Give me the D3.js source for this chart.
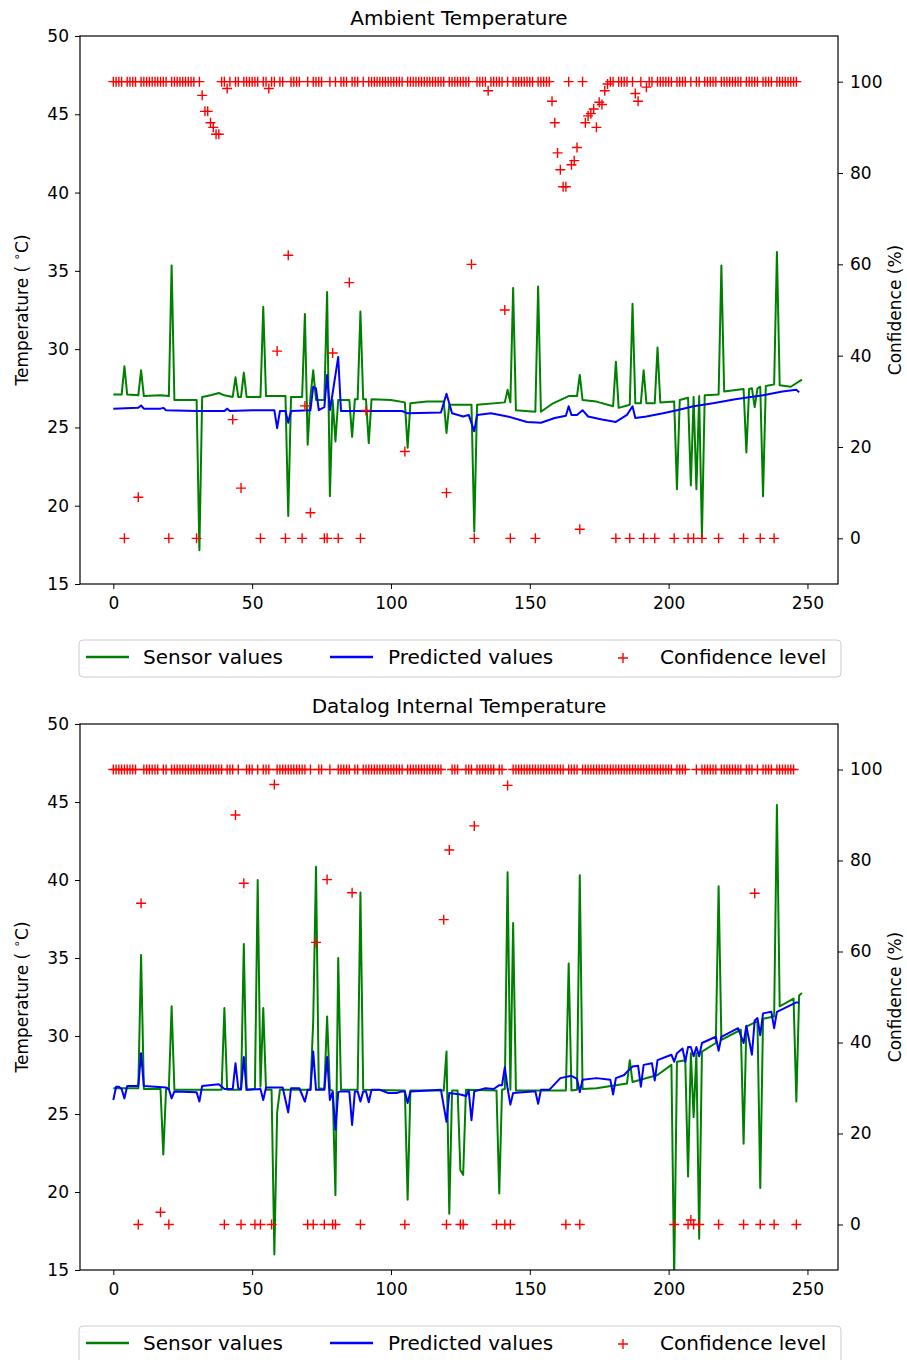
<!DOCTYPE html>
<html>
<head>
<meta charset="utf-8">
<script src="https://cdn.jsdelivr.net/npm/d3@7"></script>
<style>
	body { margin: 0; background: #fff; }
	svg text { font-family: "DejaVu Sans", sans-serif; fill: #000; }
</style>
</head>
<body>
<div id="chart"></div>
<script>
	// line vertices as [index, value]
	var ambientSensor = [[0,27.1],[3,27.1],[4,28.9],[5,27.1],[9,27.05],[10,28.65],[11,27.0],[17,27.05],[20,27.0],[21,35.35],[22,26.75],[30,26.75],[31,17.15],[32,26.95],[35,27.05],[38,27.2],[40,27.05],[43,26.95],[44,28.2],[45,26.95],[46,26.95],[47,28.5],[48,26.95],[53,26.95],[54,32.7],[55,27.0],[62,27.0],[63,19.35],[64,26.95],[68,26.95],[69,32.25],[70,23.9],[71,27.0],[72,28.65],[73,26.75],[76,26.75],[77,33.65],[78,20.6],[79,26.75],[80,24.1],[81,26.75],[85,26.75],[86,24.4],[87,26.8],[88,26.8],[89,32.4],[90,26.8],[91,26.8],[92,24.0],[93,26.8],[100,26.75],[105,26.6],[106,23.7],[107,26.55],[113,26.65],[119,26.65],[120,24.65],[121,26.45],[129,26.45],[130,18.35],[131,26.45],[141,26.6],[142,27.4],[143,26.6],[144,33.9],[145,26.1],[152,26.0],[153,34.0],[154,26.0],[158,26.5],[164,27.0],[167,27.0],[168,28.35],[169,26.75],[174,26.65],[180,26.35],[181,29.2],[182,26.25],[186,26.45],[187,32.9],[188,26.55],[190,26.55],[191,28.65],[192,26.55],[195,26.55],[196,30.1],[197,26.6],[202,26.65],[203,21.05],[204,26.75],[207,26.9],[208,21.3],[209,26.95],[210,21.05],[211,27.0],[212,18.0],[213,27.05],[218,27.1],[219,35.35],[220,27.3],[227,27.45],[228,23.4],[229,27.45],[230,27.5],[231,26.3],[232,27.5],[233,27.6],[234,20.6],[235,27.65],[238,27.75],[239,36.2],[240,27.7],[244,27.6],[248,28.05]];
	var ambientPredicted = [[0,26.2],[9,26.25],[10,26.4],[11,26.2],[17,26.2],[18,26.25],[19,26.1],[30,26.05],[40,26.05],[41,26.2],[42,26.05],[50,26.1],[58,26.1],[59,24.95],[60,26.05],[62,26.05],[63,25.3],[64,26.05],[71,26.1],[72,27.6],[73,27.5],[74,26.1],[76,26.3],[77,28.35],[78,26.1],[79,27.2],[81,29.5],[82,26.05],[104,26.05],[106,25.9],[118,25.95],[120,27.15],[122,25.9],[126,25.7],[128,25.8],[130,24.75],[131,25.8],[136,25.9],[142,25.7],[149,25.35],[154,25.3],[159,25.6],[163,25.75],[164,26.35],[165,25.8],[167,25.8],[169,26.1],[171,25.7],[176,25.5],[181,25.35],[185,25.8],[187,26.35],[188,25.6],[192,25.7],[198,25.9],[203,26.1],[209,26.35],[216,26.55],[224,26.8],[234,27.05],[241,27.3],[246,27.4],[247,27.25]];
	// confidence (%) for each index 0..246
	var ambientConfidence = [
		100,100,100,100,0,100,100,100,100,9,
		100,100,100,100,100,100,100,100,100,100,
		0,100,100,100,100,100,100,100,100,100,
		0,100,97,93.5,93.5,91,90,88.5,88.5,100,
		100,98.5,100,26,100,100,11,100,100,100,
		100,100,100,0,100,100,98.5,100,100,41,
		100,100,0,62,100,100,100,100,0,29,
		100,5.6,100,100,100,100,0,0,100,40.6,
		100,0,100,100,100,56,100,100,100,0,
		100,28,100,100,100,100,100,100,100,100,
		100,100,100,100,100,19,100,100,100,100,
		100,100,100,100,100,100,100,100,100,100,
		10,100,100,100,100,100,100,100,100,60,
		0,100,100,100,100,98,100,100,100,100,
		100,50,100,0,100,100,100,100,100,100,
		100,100,0,100,100,100,100,100,95.7,91,
		84.4,80.7,77,77,100,81.8,82.7,85.6,2,100,
		91,92.5,93,94,90,95.5,95,98,99.5,100,
		100,0,100,100,100,100,0,100,97.4,95.7,
		100,0,98.8,100,100,0,100,100,100,100,
		100,100,0,100,100,100,100,0,100,0,
		100,100,0,100,100,100,100,100,0,100,
		100,100,100,100,100,100,100,0,100,100,
		100,100,100,0,100,100,100,100,0,100,
		100,100,100,100,100,100,100];

	var internalSensor = [[0,26.65],[9,26.65],[10,35.2],[11,26.6],[17,26.6],[18,22.4],[19,26.6],[20,26.6],[21,31.9],[22,26.55],[39,26.55],[40,31.8],[41,26.55],[46,26.55],[47,35.9],[48,26.55],[51,26.6],[52,40.0],[53,26.75],[54,31.8],[55,26.55],[57,26.55],[58,16.0],[59,25.1],[60,26.55],[71,26.55],[72,31.0],[73,40.85],[74,26.65],[76,26.6],[77,31.25],[78,26.55],[79,26.5],[80,19.8],[81,35.0],[82,26.55],[88,26.55],[89,39.2],[90,26.55],[105,26.5],[106,19.5],[107,26.5],[119,26.5],[120,29.0],[121,18.6],[122,26.5],[124,26.5],[125,21.4],[126,21.1],[127,26.55],[138,26.5],[139,19.9],[140,26.55],[141,26.6],[142,40.5],[143,26.55],[144,37.25],[145,26.5],[163,26.5],[164,34.65],[165,26.5],[167,26.55],[168,40.3],[169,26.6],[174,26.65],[185,26.95],[186,28.45],[187,27.05],[196,27.5],[201,28.15],[202,14.5],[203,28.35],[206,28.45],[207,21.0],[208,28.9],[209,24.8],[210,28.9],[211,17.0],[212,29.0],[217,29.55],[218,39.6],[219,29.75],[226,30.4],[227,23.1],[228,30.6],[232,30.95],[233,20.25],[234,31.1],[238,31.25],[239,44.8],[240,31.9],[245,32.4],[246,25.8],[247,32.6],[248,32.75]];
	var internalPredicted = [[0,25.9],[1,26.75],[2,26.75],[3,26.6],[4,26.0],[5,26.8],[9,26.8],[10,28.9],[11,26.8],[19,26.7],[20,26.6],[21,26.0],[22,26.45],[30,26.4],[31,25.8],[32,26.8],[38,26.9],[40,26.6],[43,26.6],[44,28.25],[45,26.65],[46,26.6],[47,28.65],[48,26.55],[53,26.6],[54,25.9],[55,26.7],[61,26.7],[63,25.1],[64,26.65],[67,26.65],[69,25.8],[70,26.55],[71,26.55],[72,29.0],[73,26.55],[76,26.55],[77,28.65],[78,25.9],[79,26.4],[80,24.0],[81,26.4],[82,26.45],[85,26.45],[86,24.3],[87,26.45],[88,26.45],[89,25.8],[90,26.45],[91,26.45],[92,25.75],[93,26.55],[96,26.55],[99,26.35],[102,26.35],[104,26.45],[105,26.45],[106,25.7],[107,26.45],[118,26.55],[120,24.5],[121,26.35],[125,26.25],[127,26.15],[128,26.5],[129,24.6],[130,26.45],[134,26.65],[137,26.6],[139,26.85],[140,26.85],[141,28.0],[142,26.65],[143,25.6],[144,26.35],[151,26.45],[152,26.45],[153,25.65],[154,26.55],[157,26.55],[161,27.3],[165,27.45],[167,27.25],[168,26.4],[169,27.2],[174,27.3],[179,27.2],[180,26.25],[181,27.3],[184,27.5],[185,27.7],[187,28.05],[189,28.1],[190,26.75],[191,28.15],[194,28.25],[195,27.15],[196,28.45],[201,28.8],[202,28.35],[203,28.9],[205,29.2],[206,28.35],[207,29.3],[208,29.3],[209,28.7],[210,29.3],[211,28.7],[212,29.55],[217,29.95],[218,29.05],[219,29.95],[225,30.5],[227,29.55],[228,30.65],[230,28.8],[231,31.0],[232,31.15],[233,30.05],[234,31.45],[237,31.55],[238,30.5],[239,31.55],[246,32.15],[247,32.15]];
	var internalConfidence = [
		100,100,100,100,100,100,100,100,100,0,
		70.6,100,100,100,100,100,100,2.7,100,100,
		0,100,100,100,100,100,100,100,100,100,
		100,100,100,100,100,100,100,100,100,100,
		0,100,100,100,90,100,0,75,100,100,
		100,0,100,0,100,100,100,0,96.7,100,
		100,100,100,100,100,100,100,100,100,100,
		0,100,0,62,100,100,0,75.8,100,0,
		0,100,100,100,100,100,72.9,100,100,0,
		100,100,100,100,100,100,100,100,100,100,
		100,100,100,100,100,0,100,100,100,100,
		100,100,100,100,100,100,100,100,100,67,
		0,82.3,100,100,100,0,0,100,100,100,
		87.6,100,100,100,100,100,100,100,0,100,
		100,0,96.5,0,100,100,100,100,100,100,
		100,100,100,100,100,100,100,100,100,100,
		100,100,100,0,100,100,100,100,0,100,
		100,100,100,100,100,100,100,100,100,100,
		100,100,100,100,100,100,100,100,100,100,
		100,100,100,100,100,100,100,100,100,100,
		100,100,0,100,100,100,100,0,1,0,
		100,0,100,100,100,100,100,100,0,100,
		100,100,100,100,100,100,100,0,100,100,
		100,72.8,100,0,100,100,100,100,0,100,
		100,100,100,100,100,100,0];

	var xTicks = [0, 50, 100, 150, 200, 250];
	var tempTicks = [15, 20, 25, 30, 35, 40, 45, 50];
	var confTicks = [0, 20, 40, 60, 80, 100];
	var legendLabels = ["Sensor values", "Predicted values", "Confidence level"];

	var w = 907, h = 1360;
	var svg = d3.select("#chart").append("svg")
		.attr("width", w)
		.attr("height", h);

	var crossPath = "M-5,0H5M0,-5V5";

	function drawPanel(title, sensor, predicted, confidence, top, bottom, id) {
		var left = 80, right = 838;
		var x = d3.scaleLinear().domain([-12, 261]).range([left, right]);
		var y = d3.scaleLinear().domain([15, 50]).range([bottom, top]);
		var yc = d3.scaleLinear().domain([-10, 110]).range([bottom, top]);
		var g = svg.append("g");

		g.append("clipPath").attr("id", "clip" + id)
			.append("rect")
			.attr("x", left).attr("y", top)
			.attr("width", right - left).attr("height", bottom - top);

		var line = d3.line()
			.x(function(d) { return x(d[0]); })
			.y(function(d) { return y(d[1]); });

		g.append("path")
			.datum(sensor)
			.attr("d", line)
			.attr("clip-path", "url(#clip" + id + ")")
			.attr("fill", "none")
			.attr("stroke", "#008000")
			.attr("stroke-width", 2)
			.attr("stroke-linejoin", "round");

		g.append("path")
			.datum(predicted)
			.attr("d", line)
			.attr("clip-path", "url(#clip" + id + ")")
			.attr("fill", "none")
			.attr("stroke", "#0000ff")
			.attr("stroke-width", 2)
			.attr("stroke-linejoin", "round");

		g.append("g")
			.selectAll("path")
			.data(confidence)
			.enter()
			.append("path")
			.attr("d", crossPath)
			.attr("transform", function(d, i) { return "translate(" + x(i) + "," + yc(d) + ")"; })
			.attr("stroke", "#ff0000")
			.attr("stroke-width", 1.4)
			.attr("fill", "none");

		// axes
		var ax = g.append("g")
			.attr("transform", "translate(0," + bottom + ")")
			.call(d3.axisBottom(x).tickValues(xTicks).tickSize(5).tickPadding(8));
		var ayl = g.append("g")
			.attr("transform", "translate(" + left + ",0)")
			.call(d3.axisLeft(y).tickValues(tempTicks).tickSize(5).tickPadding(6));
		var ayr = g.append("g")
			.attr("transform", "translate(" + right + ",0)")
			.call(d3.axisRight(yc).tickValues(confTicks).tickSize(5).tickPadding(7));
		[ax, ayl, ayr].forEach(function(a) {
			a.select(".domain").remove();
			a.selectAll("line").attr("stroke", "#000").attr("stroke-width", 1);
			a.selectAll("text").attr("font-size", 17).attr("font-family", "DejaVu Sans");
		});

		g.append("rect")
			.attr("x", left).attr("y", top)
			.attr("width", right - left).attr("height", bottom - top)
			.attr("fill", "none")
			.attr("stroke", "#000")
			.attr("stroke-width", 1.2);

		g.append("text")
			.attr("x", (left + right) / 2)
			.attr("y", top - 11)
			.attr("text-anchor", "middle")
			.attr("font-size", 20)
			.text(title);

		var mid = (top + bottom) / 2;
		var lab = g.append("text")
			.attr("transform", "translate(28," + mid + ") rotate(-90)")
			.attr("text-anchor", "middle")
			.attr("font-size", 17);
		lab.append("tspan").text("Temperature ( ");
		lab.append("tspan").attr("font-size", 12).attr("dy", -7).text("∘");
		lab.append("tspan").attr("dy", 7).text("C)");

		g.append("text")
			.attr("transform", "translate(901," + mid + ") rotate(-90)")
			.attr("text-anchor", "middle")
			.attr("font-size", 17)
			.text("Confidence (%)");

		// legend under the plot
		var ly = bottom + 56;
		var lg = g.append("g").attr("transform", "translate(79," + ly + ")");
		lg.append("rect")
			.attr("width", 762).attr("height", 37)
			.attr("rx", 4)
			.attr("fill", "#fff")
			.attr("stroke", "#cccccc")
			.attr("stroke-width", 1);
		var cy = 17;
		lg.append("line").attr("x1", 7).attr("x2", 50).attr("y1", cy).attr("y2", cy)
			.attr("stroke", "#008000").attr("stroke-width", 2.4);
		lg.append("line").attr("x1", 251).attr("x2", 294).attr("y1", cy).attr("y2", cy)
			.attr("stroke", "#0000ff").attr("stroke-width", 2.4);
		lg.append("path").attr("d", crossPath)
			.attr("transform", "translate(544," + (cy + 1) + ")")
			.attr("stroke", "#ff0000").attr("stroke-width", 1.4);
		var lx = [64, 309, 581];
		lg.selectAll("text.leg")
			.data(legendLabels)
			.enter()
			.append("text")
			.attr("class", "leg")
			.attr("x", function(d, i) { return lx[i]; })
			.attr("y", cy + 7)
			.attr("font-size", 20)
			.text(function(d) { return d; });
	}

	drawPanel("Ambient Temperature", ambientSensor, ambientPredicted, ambientConfidence, 36, 584, "a");
	drawPanel("Datalog Internal Temperature", internalSensor, internalPredicted, internalConfidence, 724, 1270, "b");
</script>
</body>
</html>
